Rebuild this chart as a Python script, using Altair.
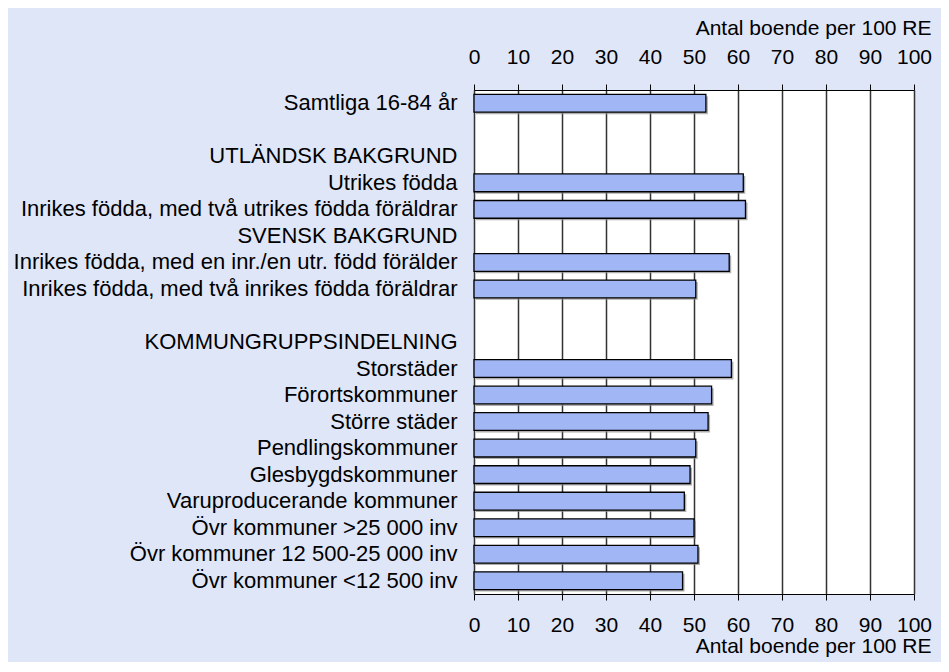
import altair as alt
import pandas as pd

labels = [
    "Samtliga 16-84 år",
    " ",
    "UTLÄNDSK BAKGRUND",
    "Utrikes födda",
    "Inrikes födda, med två utrikes födda föräldrar",
    "SVENSK BAKGRUND",
    "Inrikes födda, med en inr./en utr. född förälder",
    "Inrikes födda, med två inrikes födda föräldrar",
    "  ",
    "KOMMUNGRUPPSINDELNING",
    "Storstäder",
    "Förortskommuner",
    "Större städer",
    "Pendlingskommuner",
    "Glesbygdskommuner",
    "Varuproducerande kommuner",
    "Övr kommuner >25 000 inv",
    "Övr kommuner 12 500-25 000 inv",
    "Övr kommuner <12 500 inv",
]
values = [52.7, None, None, 61.2, 61.7, None, 58.0, 50.4, None, None,
          58.5, 54.0, 53.2, 50.4, 49.1, 47.8, 50.0, 50.9, 47.4]
tick_values = [0, 10, 20, 30, 40, 50, 60, 70, 80, 90, 100]
axis_title = "Antal boende per 100 RE"

df = pd.DataFrame({"label": labels, "value": values}).dropna()

FONT = "Liberation Sans"
x_scale = alt.Scale(domain=[0, 100], nice=False, zero=True)
y_scale = alt.Scale(domain=labels, paddingInner=0.33, paddingOuter=0.165)

common_axis = dict(
    values=tick_values, labelOverlap=False, labelFlush=False,
    labelFont=FONT, labelFontSize=21, labelColor="black",
    titleFont=FONT, titleFontSize=21, titleFontWeight="normal", titleColor="black",
    title=axis_title, titleAlign="right", titleBaseline="alphabetic", titleX=457,
    domainColor="black", domainWidth=1, tickColor="black", tickSize=6, tickWidth=1,
)

base = alt.Chart(df)

shadow = base.mark_bar(color="#8c8c8c", opacity=0.7, xOffset=2, x2Offset=2,
                       yOffset=2, y2Offset=2).encode(
    x=alt.X("value:Q", scale=x_scale,
            axis=alt.Axis(orient="top", grid=True, gridColor="#333333", gridWidth=1.5,
                          labelPadding=17, titleY=-56, **common_axis)),
    y=alt.Y("label:N", scale=y_scale,
            axis=alt.Axis(title=None, domain=False, ticks=False, labelPadding=17,
                          labelFont=FONT, labelFontSize=22, labelColor="black",
                          labelLimit=600)),
)

bars = base.mark_bar(color="#a0b6f5", stroke="black", strokeWidth=1.3).encode(
    x=alt.X("value:Q", scale=x_scale,
            axis=alt.Axis(orient="bottom", grid=False, labelPadding=14,
                          titleY=58, **common_axis)),
    y=alt.Y("label:N", scale=y_scale, axis=None),
)

chart = (
    alt.layer(shadow, bars)
    .resolve_axis(x="independent", y="independent")
    .properties(
        width=440, height=504, autosize="none",
        padding={"left": 466, "top": 82, "right": 27, "bottom": 68},
    )
    .configure(background="#dfe6f8")
    .configure_view(fill="white", stroke="transparent")
)

chart.save("out.html", embed_options={"renderer": "svg", "actions": False})
